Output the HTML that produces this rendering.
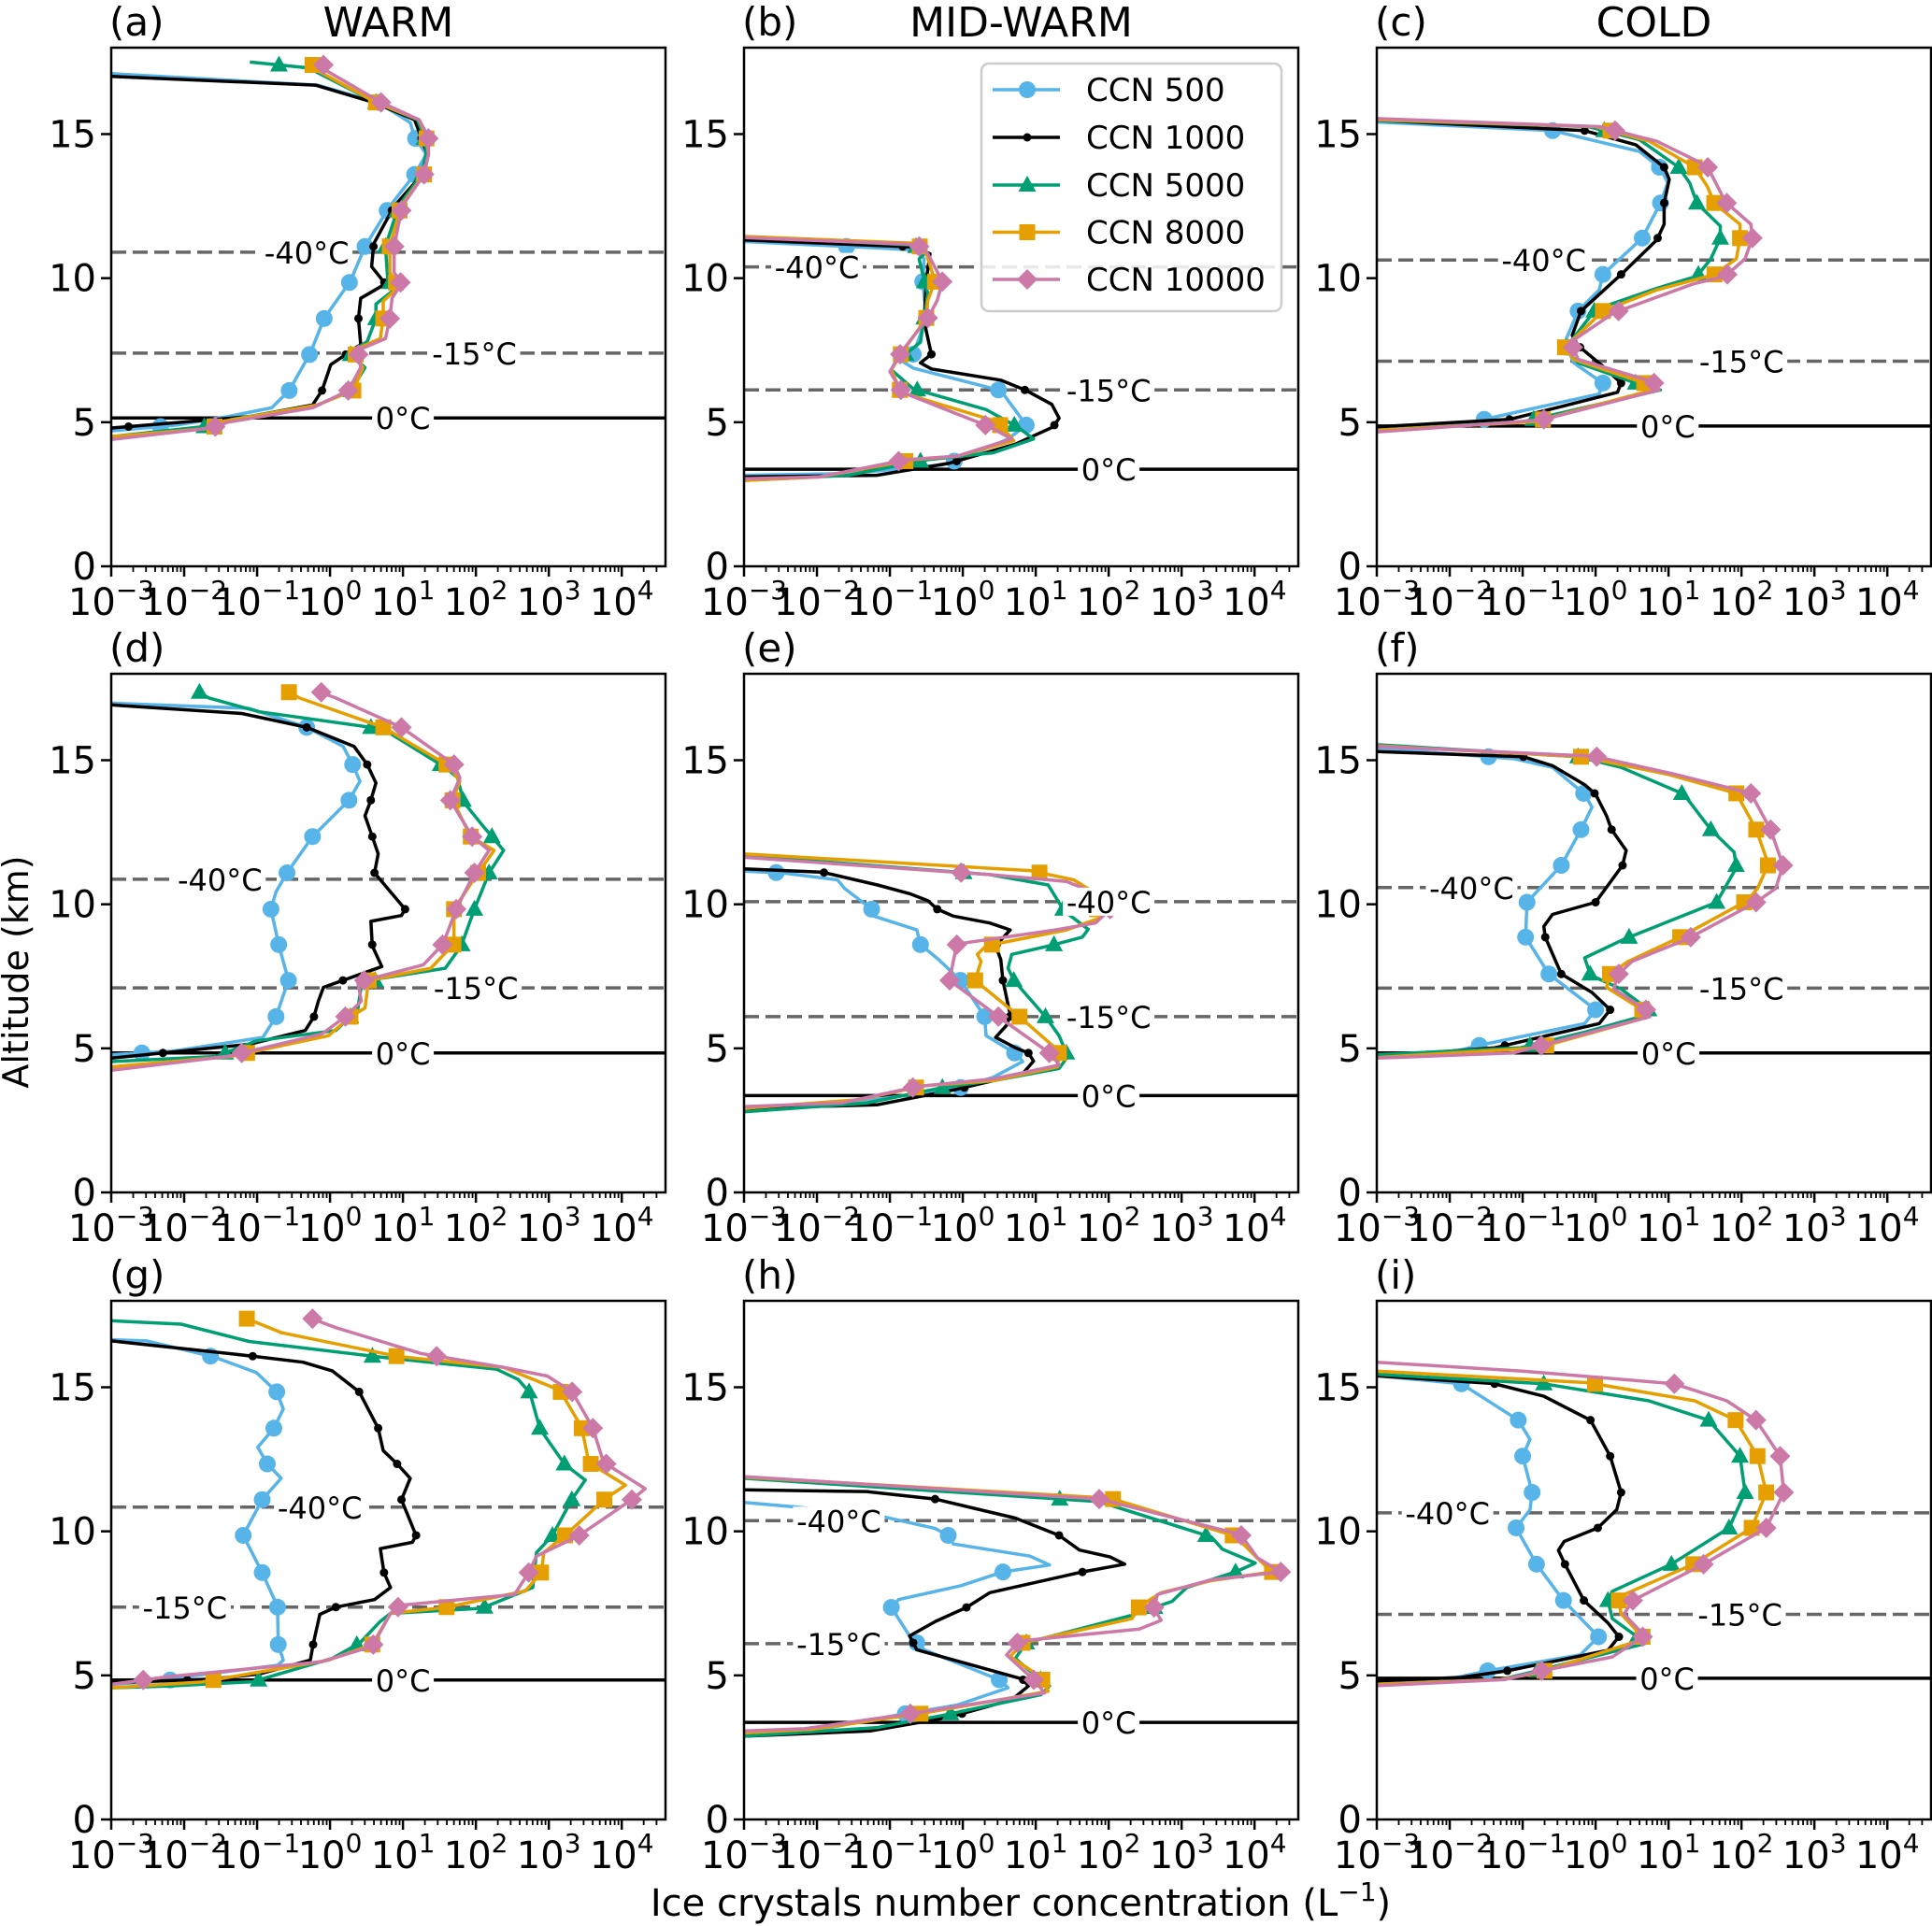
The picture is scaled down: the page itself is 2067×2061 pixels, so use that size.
<!DOCTYPE html>
<html><head><meta charset="utf-8">
<style>
html,body{margin:0;padding:0;background:#fff;}
svg{display:block;font-family:"DejaVu Sans","Liberation Sans",sans-serif;}
</style></head>
<body>
<svg id="fig" width="2067" height="2061" viewBox="0 0 2067 2061" xmlns="http://www.w3.org/2000/svg"></svg>
<script>
// ---- data: [altitude km, log10(ice crystal number concentration L^-1)] ----
const seriesNames = ["CCN 500","CCN 1000","CCN 5000","CCN 8000","CCN 10000"];
const panelLabels = ["(a)","(b)","(c)","(d)","(e)","(f)","(g)","(h)","(i)"];
const columnTitles = ["WARM","MID-WARM","COLD"];
const yTicks = [0,5,10,15];
const xTickExps = [-3,-2,-1,0,1,2,3,4];

const panelA = [
 [[17.1,-3],[16.7,-0.17],[16.1,0.66],[15.4,1.1],[14.9,1.16],[14.3,1.32],[13.6,1.16],[12.5,0.82],[11.1,0.48],[9.9,0.28],[8.6,-0.08],[7.4,-0.27],[6.1,-0.56],[5.5,-0.8],[5.2,-1.4],[4.9,-2.1],[4.7,-3]],
 [[17.0,-3],[16.7,-0.2],[16.1,0.6],[15.5,1.16],[14.4,1.32],[13.7,1.3],[12.5,0.88],[11.2,0.6],[10.4,0.57],[9.8,0.76],[9.3,0.42],[8.6,0.39],[7.7,0.42],[7.0,0.01],[6.1,-0.11],[5.6,-0.24],[5.2,-1.1],[4.8,-3]],
 [[17.5,-1.1],[17.3,-0.3],[16.1,0.63],[15.5,1.2],[14.9,1.29],[14.4,1.32],[13.6,1.26],[12.5,0.94],[11.1,0.76],[10.0,0.79],[9.6,0.88],[9.1,0.63],[8.6,0.63],[7.8,0.51],[7.4,0.26],[6.9,0.48],[6.1,0.29],[5.6,-0.17],[5.1,-1.35],[4.9,-1.54],[4.5,-3]],
 [[17.5,-0.24],[17.3,-0.24],[16.1,0.63],[15.5,1.22],[14.9,1.32],[14.3,1.35],[13.6,1.29],[12.5,0.97],[11.1,0.82],[10.2,0.82],[9.7,0.94],[9.2,0.73],[8.6,0.73],[7.9,0.69],[7.5,0.32],[6.9,0.45],[6.1,0.32],[5.6,-0.17],[5.0,-1.54],[4.8,-1.6],[4.5,-3]],
 [[17.5,-0.11],[17.2,-0.05],[16.1,0.7],[15.5,1.22],[14.9,1.35],[14.3,1.35],[13.6,1.29],[12.5,0.99],[11.1,0.88],[10.2,0.88],[9.8,0.98],[9.3,0.85],[8.6,0.82],[7.9,0.76],[7.5,0.38],[6.9,0.42],[6.1,0.25],[5.5,-0.24],[5.0,-1.4],[4.8,-1.63],[4.4,-3]]
];
const panelB = [
 [[11.27,-3],[11.05,-1.18],[10.97,-0.63],[10.67,-0.53],[9.89,-0.55],[8.62,-0.5],[7.36,-0.68],[7.12,-0.83],[6.88,-0.68],[6.10,0.52],[4.90,0.87],[4.42,0.62],[3.76,0.02],[3.52,-0.28],[3.22,-1.57],[3.16,-3]],
 [[11.33,-3],[11.09,-0.73],[10.85,-0.45],[9.95,-0.5],[8.50,-0.53],[7.36,-0.43],[7.06,-0.58],[6.85,-0.43],[6.46,0.52],[6.10,0.87],[5.62,1.22],[5.14,1.32],[4.84,1.24],[4.24,0.72],[3.58,-0.18],[3.16,-1.18],[3.10,-3]],
 [[11.45,-3],[11.15,-0.68],[10.91,-0.5],[10.67,-0.6],[9.95,-0.53],[9.47,-0.48],[8.62,-0.53],[7.78,-0.58],[7.06,-0.93],[6.82,-0.98],[6.16,-0.68],[5.44,0.32],[4.84,0.75],[4.42,0.97],[3.94,0.42],[3.70,-0.48],[3.16,-1.57],[2.98,-3]],
 [[11.45,-3],[11.21,-0.63],[10.85,-0.5],[9.89,-0.38],[9.23,-0.48],[8.62,-0.5],[7.36,-0.85],[6.82,-0.98],[6.04,-0.85],[5.02,0.47],[4.36,0.70],[3.82,-0.08],[3.70,-0.68],[3.10,-1.97],[2.98,-3]],
 [[11.41,-3],[11.17,-0.63],[10.85,-0.48],[9.89,-0.28],[9.23,-0.35],[8.62,-0.48],[7.48,-0.83],[6.76,-1.0],[6.04,-0.83],[4.84,0.37],[4.42,0.67],[3.82,-0.08],[3.70,-0.78],[3.10,-1.97],[3.04,-3]]
];
const panelC = [
 [[15.42,-3],[15.12,-0.59],[14.4,0.6],[13.82,0.89],[13.31,0.99],[12.61,0.89],[11.39,0.64],[10.13,0.1],[9.59,0.05],[8.86,-0.24],[7.78,-0.42],[7.06,-0.3],[6.36,0.1],[5.98,0.05],[5.16,-1.43],[4.89,-1.87],[4.78,-3]],
 [[15.48,-3],[15.12,-0.15],[14.63,0.55],[13.85,0.94],[13.43,1.01],[12.6,0.94],[11.87,0.94],[11.33,0.84],[10.13,0.35],[8.86,-0.2],[8.02,-0.32],[7.66,-0.24],[6.94,0.1],[6.36,0.35],[6.04,0.3],[5.5,-0.54],[5.1,-1.18],[4.84,-3]],
 [[15.48,-3],[15.26,-0.1],[14.81,0.6],[13.85,1.14],[13.31,1.29],[12.6,1.39],[11.81,1.71],[11.39,1.71],[10.67,1.58],[10.07,1.39],[9.65,0.84],[8.92,0.0],[7.54,-0.42],[7.06,-0.24],[6.28,0.64],[6.12,0.89],[5.02,-0.99],[4.72,-3]],
 [[15.5,-3],[15.26,0.0],[14.75,0.74],[13.85,1.36],[13.19,1.53],[12.59,1.63],[11.87,1.98],[11.39,1.98],[10.67,1.93],[10.13,1.63],[9.59,0.84],[8.86,0.1],[7.6,-0.42],[7.18,-0.3],[6.34,0.69],[6.16,0.84],[5.02,-0.84],[4.72,-3]],
 [[15.54,-3],[15.26,0.05],[14.75,0.84],[13.89,1.53],[12.65,1.78],[11.87,2.13],[11.39,2.15],[10.67,2.05],[10.07,1.78],[9.8,1.34],[8.8,0.25],[7.78,-0.34],[7.18,-0.24],[6.4,0.79],[6.12,0.87],[5.08,-0.74],[4.66,-3]]
];
const panelD = [
 [[16.98,-3],[16.8,-1.11],[16.14,-0.32],[15.48,0.18],[14.85,0.31],[14.27,0.41],[13.61,0.26],[12.35,-0.24],[11.09,-0.59],[10.43,-0.74],[9.83,-0.81],[8.56,-0.7],[7.36,-0.57],[6.1,-0.74],[5.38,-0.92],[4.9,-2.16],[4.78,-3]],
 [[16.92,-3],[16.62,-1.21],[16.14,-0.32],[15.48,0.33],[14.85,0.51],[14.21,0.63],[13.61,0.56],[13.07,0.48],[12.35,0.58],[11.75,0.66],[11.09,0.61],[9.83,1.03],[9.61,0.98],[9.41,0.56],[8.56,0.58],[7.84,0.71],[7.12,-0.09],[6.64,-0.16],[6.1,-0.22],[5.62,-0.34],[5.14,-1.11],[4.66,-3]],
 [[17.34,-1.79],[17.16,-1.66],[16.68,-0.97],[16.08,0.73],[14.75,1.58],[14.39,1.75],[13.55,1.83],[12.71,2.1],[11.87,2.38],[11.09,2.18],[9.83,1.98],[8.56,1.8],[7.78,1.58],[7.42,0.68],[7.18,0.43],[6.34,0.38],[5.62,0.08],[5.26,-1.01],[4.72,-1.56],[4.54,-3]],
 [[17.37,-0.57],[17.16,-0.42],[16.14,0.73],[14.8,1.63],[14.27,1.78],[13.61,1.68],[12.35,1.93],[11.87,2.25],[11.09,2.03],[9.83,1.7],[8.62,1.7],[7.78,1.38],[7.36,0.53],[6.4,0.48],[6.1,0.28],[5.44,-0.02],[4.72,-1.36],[4.36,-3]],
 [[17.34,-0.12],[17.16,0.08],[16.14,0.98],[14.85,1.7],[14.39,1.78],[13.61,1.65],[12.35,1.95],[11.87,2.18],[11.09,1.98],[9.83,1.73],[8.62,1.55],[7.9,1.28],[7.3,0.38],[6.64,0.43],[6.1,0.21],[5.5,-0.11],[4.72,-1.41],[4.24,-3]]
];
const panelE = [
 [[11.15,-3],[11.09,-2.47],[10.85,-1.72],[10.55,-1.62],[9.83,-1.25],[9.59,-1.22],[9.11,-0.63],[8.6,-0.58],[8.08,-0.33],[7.36,-0.03],[6.1,0.3],[5.44,0.32],[4.78,0.75],[4.54,0.82],[4.0,0.42],[3.6,-0.08],[3.1,-1.57],[2.86,-3]],
 [[11.23,-3],[11.11,-1.92],[10.67,-1.17],[10.37,-0.73],[10.13,-0.48],[9.83,-0.35],[9.59,-0.13],[9.35,0.37],[9.11,0.65],[8.56,0.45],[8.08,0.52],[7.36,0.55],[6.16,0.65],[5.8,0.6],[5.38,0.45],[5.02,0.72],[4.84,0.9],[4.56,0.97],[4.12,0.82],[3.58,-0.08],[3.04,-1.18],[2.92,-3]],
 [[11.69,-3],[11.03,0.37],[10.67,1.17],[9.77,1.39],[9.13,1.72],[8.86,1.64],[8.56,1.19],[8.26,0.67],[7.78,0.62],[7.36,0.7],[6.08,1.14],[5.44,1.32],[4.72,1.44],[4.3,1.32],[3.88,0.42],[3.64,-0.28],[3.1,-1.32],[2.8,-3]],
 [[11.75,-3],[11.17,0.92],[10.85,1.52],[10.43,1.79],[9.83,1.84],[9.53,1.89],[9.11,1.42],[8.56,0.32],[8.26,0.2],[8.02,0.25],[7.36,0.17],[6.16,0.75],[4.9,1.32],[4.36,1.3],[3.88,0.42],[3.7,-0.53],[3.22,-1.42],[2.92,-3]],
 [[11.63,-3],[11.03,0.37],[10.79,1.42],[10.37,1.84],[9.83,2.02],[9.35,1.82],[9.11,1.27],[8.62,-0.08],[8.02,-0.13],[7.36,-0.18],[6.04,0.52],[4.78,1.22],[4.42,1.32],[3.94,0.42],[3.67,-0.63],[3.1,-1.67],[2.98,-3]]
];
const panelF = [
 [[15.42,-3],[15.05,-1.11],[14.75,-0.59],[13.82,-0.15],[13.37,-0.05],[12.59,-0.2],[11.35,-0.47],[10.07,-0.94],[8.86,-0.96],[7.58,-0.64],[6.34,0.0],[5.86,-0.15],[5.14,-1.53],[4.84,-2.02],[4.72,-3]],
 [[15.3,-3],[15.12,-0.99],[14.81,-0.59],[14.15,-0.15],[13.82,0.0],[13.07,0.15],[12.59,0.22],[11.87,0.42],[11.35,0.37],[10.07,0.0],[9.65,-0.59],[9.23,-0.71],[8.86,-0.69],[7.58,-0.47],[6.94,-0.05],[6.34,0.2],[5.86,0.05],[5.02,-1.38],[4.72,-3]],
 [[15.54,-3],[15.12,-0.24],[14.75,0.35],[13.82,1.21],[12.59,1.58],[11.81,1.9],[11.27,1.93],[10.07,1.66],[8.8,0.4],[8.14,-0.15],[7.54,-0.07],[7.06,0.35],[6.22,0.79],[5.56,-0.15],[5.02,-1.03],[4.78,-3]],
 [[15.5,-3],[15.12,-0.2],[14.51,0.99],[13.85,1.93],[12.61,2.2],[11.39,2.37],[10.55,2.22],[10.13,2.08],[8.86,1.16],[8.02,0.45],[7.6,0.2],[7.12,0.15],[6.34,0.64],[6.1,0.74],[5.02,-0.79],[4.68,-3]],
 [[15.48,-3],[15.14,-0.02],[14.51,1.09],[13.85,2.13],[12.59,2.4],[11.35,2.57],[10.55,2.47],[10.07,2.2],[8.8,1.26],[8.02,0.5],[7.54,0.3],[7.06,0.25],[6.34,0.69],[6.1,0.74],[4.84,-1.13],[4.66,-3]]
];
const panelG = [
 [[16.65,-3],[16.61,-2.51],[16.05,-1.59],[15.51,-1.01],[14.84,-0.73],[14.24,-0.64],[13.58,-0.77],[12.92,-0.99],[12.34,-0.86],[11.84,-0.67],[11.1,-0.93],[9.86,-1.19],[8.57,-0.93],[7.39,-0.72],[6.07,-0.71],[5.53,-0.64],[5.35,-0.72],[4.99,-1.86],[4.81,-2.26],[4.69,-3]],
 [[16.61,-3],[16.08,-1.06],[15.87,-0.37],[15.57,0.03],[14.84,0.4],[13.58,0.66],[12.8,0.73],[12.34,0.92],[11.84,1.1],[11.1,0.98],[9.86,1.18],[9.62,1.13],[9.4,0.69],[8.57,0.74],[8.05,0.83],[7.63,0.61],[7.37,0.08],[7.12,-0.14],[6.09,-0.23],[5.53,-0.27],[5.05,-0.97],[4.87,-1.61],[4.75,-3]],
 [[17.31,-3],[17.19,-2.04],[16.59,-1.11],[16.05,0.68],[15.63,2.28],[15.27,2.58],[14.81,2.74],[13.55,2.88],[12.32,3.22],[11.78,3.5],[11.12,3.32],[9.86,3.05],[9.26,2.83],[8.05,2.78],[7.33,2.08],[7.15,0.83],[6.85,0.68],[6.13,0.41],[5.59,0.03],[4.78,-1.06],[4.63,-2.21],[4.57,-3]],
 [[17.4,-1.16],[16.89,-0.66],[16.07,0.93],[15.69,2.38],[14.9,3.15],[13.61,3.45],[12.38,3.55],[11.6,4.05],[11.12,3.77],[9.92,3.25],[9.26,2.93],[8.59,2.9],[7.93,2.68],[7.36,1.58],[7.15,0.83],[6.85,0.76],[6.07,0.58],[5.53,-0.02],[4.77,-1.76],[4.57,-3]],
 [[17.37,-0.24],[17.07,0.08],[16.17,1.25],[15.69,2.38],[15.39,2.98],[14.84,3.32],[13.61,3.6],[12.4,3.75],[11.48,4.32],[11.12,4.15],[9.83,3.4],[9.14,2.83],[8.59,2.73],[7.81,2.53],[7.43,0.96],[7.15,0.83],[6.01,0.58],[5.47,-0.12],[4.95,-2.24],[4.69,-3]]
];
const panelH = [
 [[11.0,-3],[10.84,-2.27],[10.52,-1.12],[10.1,-0.38],[9.86,-0.2],[9.56,-0.13],[9.14,0.92],[8.83,1.19],[8.59,0.55],[8.11,-0.03],[7.63,-0.88],[7.36,-0.98],[6.37,-0.73],[5.89,-0.53],[4.83,0.52],[4.57,0.62],[3.97,-0.08],[3.61,-0.93],[3.19,-1.82],[3.0,-3]],
 [[11.44,-3],[11.38,-1.32],[11.12,-0.38],[10.46,0.72],[9.86,1.32],[9.35,1.6],[9.11,2.02],[8.86,2.22],[8.59,1.64],[7.87,0.37],[7.36,0.05],[6.88,-0.37],[6.37,-0.73],[5.89,-0.63],[4.87,0.82],[4.63,0.9],[4.15,0.67],[3.55,-0.18],[3.07,-1.27],[2.89,-3]],
 [[11.84,-3],[11.03,1.87],[9.8,3.41],[9.38,3.56],[8.9,4.01],[8.59,3.74],[8.05,3.07],[7.57,2.87],[7.09,2.32],[6.13,0.87],[5.59,0.72],[4.93,1.02],[4.63,1.19],[4.33,1.07],[3.61,-0.28],[3.19,-1.17],[2.89,-3]],
 [[11.88,-3],[11.15,2.02],[9.83,3.74],[9.14,4.01],[8.59,4.24],[8.29,3.41],[7.87,2.72],[7.39,2.42],[6.97,2.32],[6.13,0.82],[5.65,0.65],[4.95,1.07],[4.45,1.17],[3.67,-0.58],[3.13,-2.07],[3.01,-3]],
 [[11.9,-3],[11.12,1.87],[9.89,3.81],[9.08,4.04],[8.59,4.36],[8.32,3.41],[7.81,2.67],[7.33,2.62],[6.91,2.72],[6.61,2.42],[6.19,0.77],[5.71,0.6],[4.81,0.99],[4.39,1.12],[3.67,-0.72],[3.15,-2.17],[3.07,-3]]
];
const panelI = [
 [[15.4,-3],[15.12,-1.84],[13.86,-1.06],[13.19,-0.9],[12.61,-1.0],[11.35,-0.87],[10.75,-0.9],[10.12,-1.09],[8.86,-0.81],[7.6,-0.44],[6.34,0.04],[5.71,-0.21],[5.16,-1.48],[4.93,-1.9],[4.77,-3]],
 [[15.4,-3],[15.13,-1.4],[14.69,-0.71],[13.86,-0.07],[12.61,0.2],[11.35,0.35],[10.75,0.29],[10.12,0.03],[9.65,-0.43],[9.34,-0.51],[8.86,-0.42],[7.6,-0.16],[6.82,0.17],[6.34,0.32],[5.87,0.17],[5.16,-1.21],[4.93,-1.84],[4.81,-3]],
 [[15.45,-3],[15.12,-0.71],[14.53,0.73],[13.86,1.55],[12.61,1.98],[11.35,2.05],[10.12,1.83],[8.86,1.04],[7.92,0.23],[7.6,0.17],[6.97,0.23],[6.34,0.57],[6.1,0.67],[5.16,-0.8],[4.86,-1.3],[4.69,-3]],
 [[15.56,-3],[15.16,-0.1],[14.53,1.36],[13.86,1.92],[12.61,2.22],[11.35,2.34],[10.12,2.14],[8.86,1.34],[7.76,0.35],[7.6,0.32],[7.13,0.35],[6.27,0.67],[5.08,-0.8],[4.86,-1.3],[4.69,-3]],
 [[15.87,-3],[15.56,-1.0],[15.12,1.08],[14.53,1.8],[13.86,2.2],[12.61,2.53],[11.35,2.58],[10.12,2.34],[8.86,1.48],[7.6,0.51],[7.13,0.39],[6.38,0.67],[5.64,0.23],[5.16,-0.74],[4.86,-1.24],[4.64,-3]]
];
// model output levels (km) where markers are drawn
const markerLevels = [
 [4.85,6.1,7.35,8.6,9.85,11.1,12.35,13.6,14.85,16.1,17.4],
 [3.65,4.9,6.12,7.36,8.62,9.88,11.1],
 [5.1,6.36,7.6,8.86,10.13,11.39,12.61,13.85,15.12],
 [4.84,6.1,7.36,8.6,9.83,11.09,12.35,13.61,14.85,16.14,17.36],
 [3.64,4.84,6.1,7.36,8.6,9.83,11.1],
 [5.1,6.34,7.58,8.86,10.07,11.35,12.59,13.85,15.12],
 [4.84,6.07,7.37,8.57,9.86,11.1,12.34,13.58,14.84,16.08,17.38],
 [3.67,4.85,6.13,7.36,8.59,9.86,11.12],
 [5.16,6.34,7.6,8.86,10.12,11.35,12.61,13.86,15.12]
];
const isoAlt = [[10.9,7.4,5.15],[10.39,6.12,3.37],[10.63,7.12,4.87],[10.87,7.1,4.84],[10.09,6.10,3.36],[10.58,7.09,4.84],[10.84,7.37,4.84],[10.37,6.10,3.37],[10.64,7.12,4.90]];
const isoLabelX = [[-0.32,1.98,1.0],[-2.0,2.0,2.0],[-0.71,2.0,0.99],[-1.51,2.0,1.0],[2.0,2.0,2.0],[-1.7,2.0,1.0],[-0.14,-1.99,1.0],[-1.7,-1.7,2.0],[-2.03,1.98,0.98]];
const isoText = ["-40°C","-15°C","0°C"];

const allPanels = [panelA,panelB,panelC,panelD,panelE,panelF,panelG,panelH,panelI];
const colors = ["#56B4E9","#000000","#009E73","#E69F00","#CC79A7"];
const markerKinds = ["circle","dot","triangle","square","diamond"];

const NS = "http://www.w3.org/2000/svg";
const svg = document.getElementById("fig");
const colLeft = [119,796,1473], rowTop = [51,721,1392];
const PW = 593, PH = 555, XMIN = -3, XMAX = 4.6, YMAX = 18;

function el(tag, attrs, parent, text){
  const e = document.createElementNS(NS, tag);
  for (const k in attrs) e.setAttribute(k, attrs[k]);
  if (text !== undefined) e.textContent = text;
  (parent || svg).appendChild(e);
  return e;
}
function xs(p, v){ return colLeft[p%3] + (v - XMIN) / (XMAX - XMIN) * PW; }
function ys(p, a){ return rowTop[Math.floor(p/3)] + PH - a / YMAX * PH; }

function marker(g, kind, x, y, c){
  let m;
  if (kind === "circle") m = el("circle",{cx:x,cy:y,r:9,fill:c},g);
  else if (kind === "dot") m = el("circle",{cx:x,cy:y,r:4.5,fill:c},g);
  else if (kind === "triangle") m = el("polygon",{points:`${x},${y-10} ${x-9.5},${y+7} ${x+9.5},${y+7}`,fill:c},g);
  else if (kind === "square") m = el("rect",{x:x-8.5,y:y-8.5,width:17,height:17,fill:c},g);
  else m = el("polygon",{points:`${x},${y-11} ${x+11},${y} ${x},${y+11} ${x-11},${y}`,fill:c},g);
  return m;
}
function valueAt(series, alt){
  for (let i = 0; i < series.length - 1; i++){
    const a0 = series[i][0], a1 = series[i+1][0];
    if ((alt <= a0 && alt >= a1) || (alt >= a0 && alt <= a1)){
      if (a0 === a1) return series[i][1];
      const t = (alt - a0) / (a1 - a0);
      return series[i][1] + t * (series[i+1][1] - series[i][1]);
    }
  }
  if (Math.abs(series[0][0] - alt) < 0.15) return series[0][1];
  return null;
}

const defs = el("defs",{});
for (let p = 0; p < 9; p++){
  const L = colLeft[p%3], T = rowTop[Math.floor(p/3)];
  const cp = el("clipPath",{id:"clip"+p},defs);
  el("rect",{x:L,y:T,width:PW,height:PH},cp);

  const g = el("g",{});
  
  

  const iso = el("g",{"clip-path":`url(#clip${p})`},g);
  
  
  for (let k = 0; k < 3; k++){
    const y = ys(p, isoAlt[p][k]);
    const ln = el("line",{x1:L,x2:L+PW,y1:y,y2:y,
      stroke: k===2 ? "#000" : "#666", "stroke-width":3.5,
      "stroke-dasharray": k===2 ? "none" : "16,7"}, iso);
    
    
  }
  const sg = el("g",{"clip-path":`url(#clip${p})`},g);
  const data = allPanels[p];
  for (let s = 0; s < 5; s++){
    const pts = data[s].map(d => `${xs(p,d[1]).toFixed(1)},${ys(p,d[0]).toFixed(1)}`).join(" ");
    const pl = el("polyline",{points:pts,fill:"none",stroke:colors[s],"stroke-width":3.5,"stroke-linejoin":"round"},sg);
    
    
    for (const lev of markerLevels[p]){
      const v = valueAt(data[s], lev);
      if (v === null || v <= -2.9) continue;
      const m = marker(sg, markerKinds[s], xs(p,v), ys(p,lev), colors[s]);
      
      
    }
  }
  for (let k = 0; k < 3; k++){
    const x = xs(p, isoLabelX[p][k]), y = ys(p, isoAlt[p][k]);
    const w = k===2 ? 66 : 98;
    el("rect",{x:x-w/2,y:y-15,width:w,height:30,fill:"#fff"},g);
    const t = el("text",{x:x,y:y+12,"font-size":32,"text-anchor":"middle",fill:"#000"},g,isoText[k]);
    
    
  }
  const fr = el("rect",{x:L,y:T,width:PW,height:PH,fill:"none",stroke:"#000","stroke-width":2.5},g);
  
  
  for (const t of yTicks){
    const y = ys(p,t);
    el("line",{x1:L-11,x2:L,y1:y,y2:y,stroke:"#000","stroke-width":2.5},g);
    const tl = el("text",{x:L-16,y:y+14,"font-size":40,"text-anchor":"end"},g,String(t));
    
    
  }
  const B = T + PH;
  for (let e = -3; e <= 4; e++){
    for (let k = 1; k <= 9; k++){
      const v = e + Math.log10(k);
      if (v > XMAX) break;
      const x = xs(p, v);
      el("line",{x1:x,x2:x,y1:B,y2:B+(k===1?11:6),stroke:"#000","stroke-width":k===1?2.5:1.8},g);
    }
  }
  for (const e of xTickExps){
    const x = xs(p, e);
    const t = el("text",{x:x,y:B+52,"font-size":40,"text-anchor":"middle"},g);
    
    
    el("tspan",{},t,"10");
    el("tspan",{dy:-17,"font-size":28},t, e<0 ? "\u2212"+(-e) : String(e));
  }
  const pl = el("text",{x:L-2,y:T-13,"font-size":42},g,panelLabels[p]);
  
  
}
for (let c = 0; c < 3; c++){
  const t = el("text",{x:colLeft[c]+PW/2,y:39,"font-size":44,"text-anchor":"middle"},svg,columnTitles[c]);
  
  
}
const yt = el("text",{x:0,y:0,"font-size":38,"text-anchor":"middle",transform:"translate(30,1040) rotate(-90)"},svg,"Altitude (km)");


const xt = el("text",{x:1092,y:2050,"font-size":40,"text-anchor":"middle"},svg);


el("tspan",{},xt,"Ice crystals number concentration (L");
el("tspan",{dy:-16,"font-size":28},xt,"\u22121");
el("tspan",{dy:16},xt,")");

const lg = el("g",{});


el("rect",{x:1050,y:68,width:321,height:265,rx:8,fill:"#fff","fill-opacity":0.85,stroke:"#ccc","stroke-width":2.5},lg);
const rowsY = [96,147,198,248.5,299];
for (let s = 0; s < 5; s++){
  const ent = el("g",{},lg);
  
  
  el("line",{x1:1062,x2:1134,y1:rowsY[s],y2:rowsY[s],stroke:colors[s],"stroke-width":3.5},ent);
  marker(ent, markerKinds[s], 1099, rowsY[s], colors[s]);
  el("text",{x:1162,y:rowsY[s]+12,"font-size":34},ent,seriesNames[s]);
}
</script>
</body></html>
